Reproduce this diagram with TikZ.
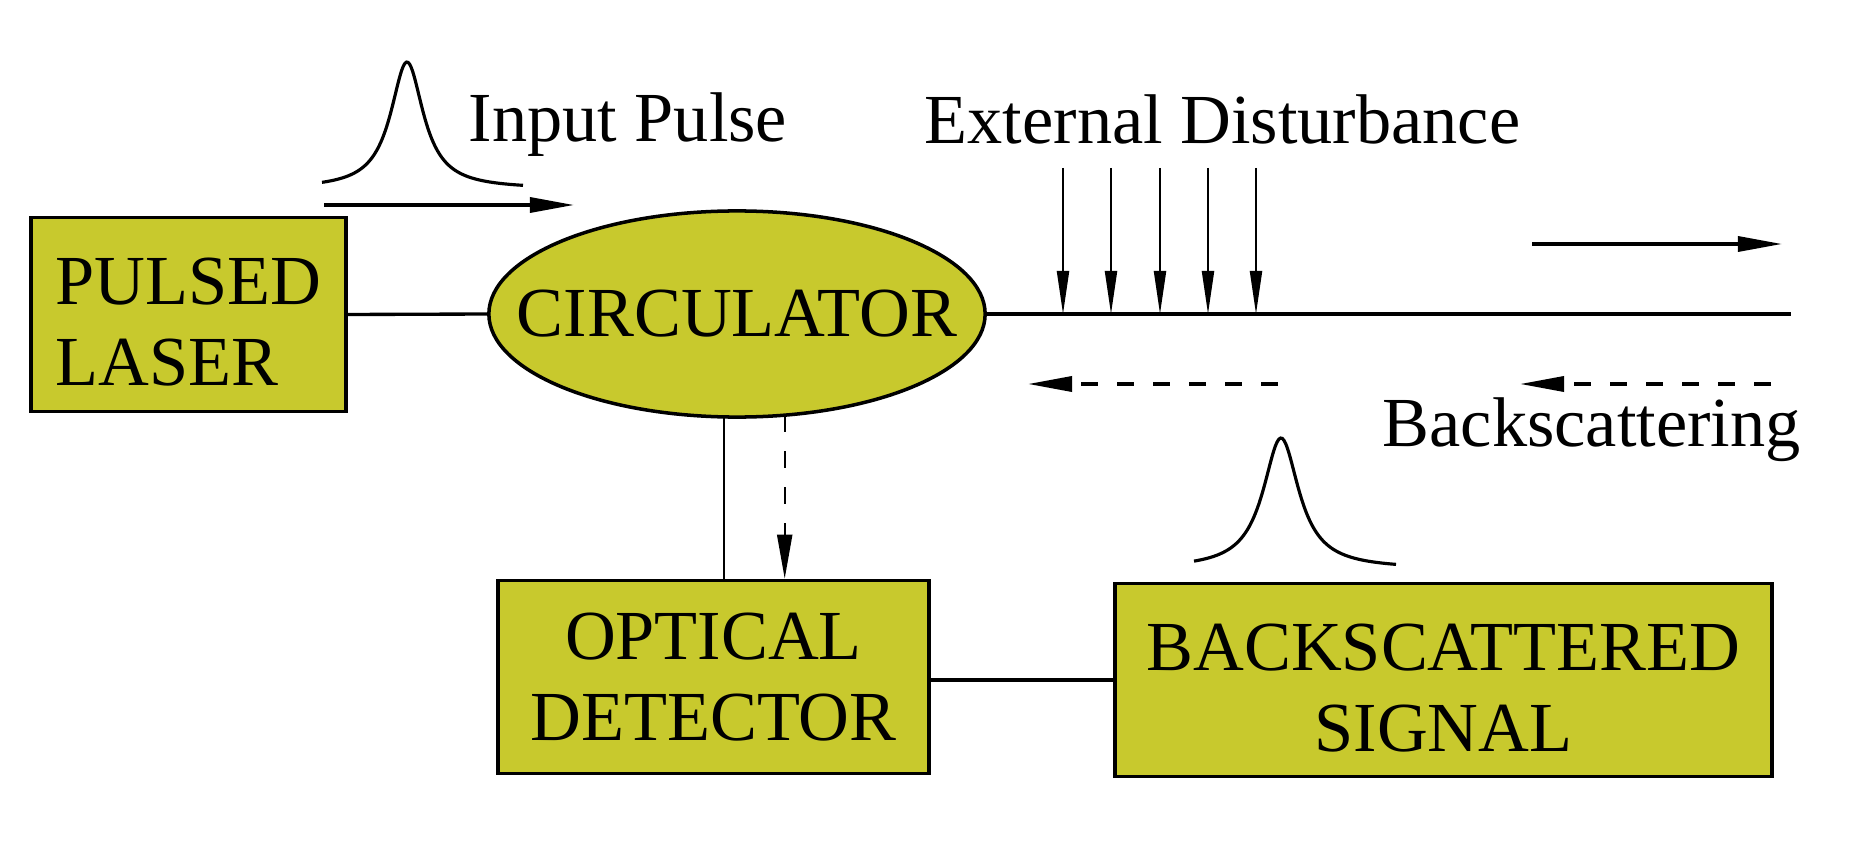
\documentclass[tikz,border=0pt]{standalone}
\usepackage{fontspec}
\setmainfont{Liberation Serif}
\usetikzlibrary{arrows.meta,shapes.geometric}
\definecolor{boxfill}{RGB}{200,201,45}
\tikzset{
  block/.style={draw, fill=boxfill, line width=1pt, inner sep=0pt},
  txt/.style={inner sep=0pt, anchor=base west},
  arr/.style={-{Triangle[length=0.44cm,width=0.15cm]}},
  hitarr/.style={-{Triangle[length=0.43cm,width=0.12cm]}, line width=0.6pt},
  backarr/.style={arr, dash pattern=on 0.17cm off 0.19cm},
  pulse/.style={line width=0.9pt, smooth},
}
\begin{document}
\begin{tikzpicture}[x=0.01cm, y=-0.01cm, line width=0.95pt, font=\fontsize{20}{23}\selectfont]
		\useasboundingbox (0,0) rectangle (1860,867);
		\node (laser) [block, minimum width=3.15cm, minimum height=1.94cm, align=left] at (188.5,314.5) {PULSED\rule{0pt}{0.62cm}\\LASER};
		\node (circ) [block, ellipse, minimum width=4.96cm, minimum height=2.06cm] at (737,314) {\makebox[0pt]{CIRCULATOR}};
		\node (det) [block, minimum width=4.31cm, minimum height=1.93cm, align=center] at (713.5,677) {OPTICAL\\DETECTOR};
		\node (sig) [block, minimum width=6.57cm, minimum height=1.93cm, align=center] at (1443.5,680) {BACKSCATTERED\rule{0pt}{0.62cm}\\SIGNAL};
		\node (inlab) [txt] at (467,142) {Input Pulse};
		\node (distlab) [txt] at (923,144) {External Disturbance};
		\node (bslab) [txt] at (1381,446) {Backscattering};
		\coordinate (fend) at (1791,314);
		\coordinate (in1) at (324,205);
		\coordinate (in2) at (574,205);
		\coordinate (fw1) at (1532,244);
		\coordinate (fw2) at (1782,244);
		\coordinate (bk1) at (1278,384);
		\coordinate (bk2) at (1028,384);
		\coordinate (bk3) at (1771,384);
		\coordinate (bk4) at (1520,384);
		\coordinate (c1) at (723.6,417);
		\coordinate (c2) at (784.7,415);
		\draw (laser.east) -- (circ.west);
		\draw (circ.east) -- (fend);
		\draw[line width=0.6pt] (c1) -- (c1 |- det.north);
		\draw[backarr, line width=0.6pt] (c2) -- (c2 |- det.north);
		\draw (det.east |- sig.west) -- (sig.west);
		\draw[arr] (in1) -- (in2);
		\draw[arr] (fw1) -- (fw2);
		\draw[backarr, line width=1pt] (bk1) -- (bk2);
		\draw[backarr, line width=1pt] (bk3) -- (bk4);
		% disturbance
		\foreach \x [count=\i] in {1063,1111,1160,1208,1256} {
			\coordinate (hit\i) at (\x,168);
			\draw[hitarr] (hit\i) -- (hit\i |- fend);
		}
		% pulses
		\draw[pulse] plot[domain=-85:116, samples=120] ({407+\x},{189-127/(1+(\x/20)^2)});
		\draw[pulse] plot[domain=-87:115, samples=120] ({1281+\x},{569-131/(1+(\x/22)^2)});
\end{tikzpicture}
\end{document}
